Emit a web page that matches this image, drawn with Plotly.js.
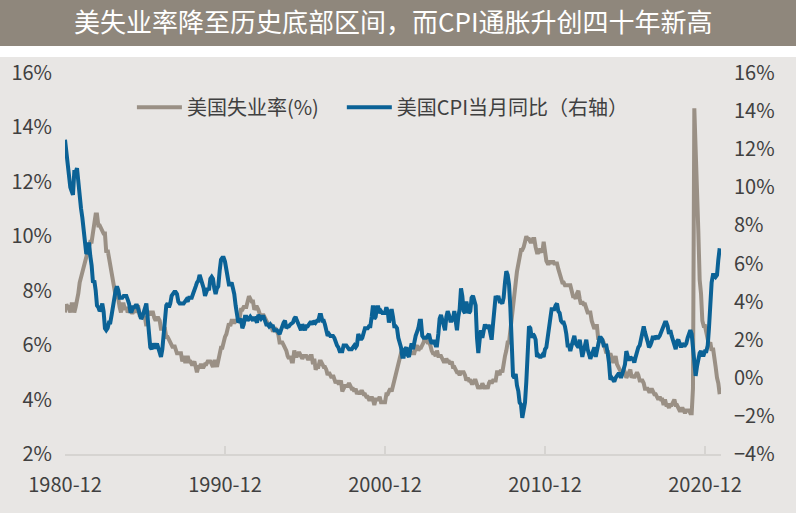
<!DOCTYPE html>
<html>
<head>
<meta charset="utf-8">
<script src="https://cdn.plot.ly/plotly-3.0.1.min.js"></script>
<style>
  html, body { margin: 0; padding: 0; background: #ffffff; }
  #plot { width: 796px; height: 513px; }
</style>
</head>
<body>
<div id="plot"></div>
<script>
// 月度数据：1980-12 至 2021-11
var startYear = 1980, startMonth = 12;

// 美国失业率(%)
var unemployment = [
  7.2,
  7.5, 7.4, 7.4, 7.2, 7.5, 7.5, 7.2, 7.4, 7.6, 7.9, 8.3, 8.5,
  8.6, 8.9, 9.0, 9.3, 9.4, 9.6, 9.8, 9.8, 10.1, 10.4, 10.8, 10.8,
  10.4, 10.4, 10.3, 10.2, 10.1, 10.1, 9.4, 9.5, 9.2, 8.8, 8.5, 8.3,
  8.0, 7.8, 7.8, 7.7, 7.4, 7.2, 7.5, 7.5, 7.3, 7.4, 7.2, 7.3,
  7.3, 7.2, 7.2, 7.3, 7.2, 7.4, 7.4, 7.1, 7.1, 7.1, 7.0, 7.0,
  6.7, 7.2, 7.2, 7.1, 7.2, 7.2, 7.0, 6.9, 7.0, 7.0, 6.9, 6.6,
  6.6, 6.6, 6.6, 6.3, 6.3, 6.2, 6.1, 6.0, 5.9, 6.0, 5.8, 5.7,
  5.7, 5.7, 5.7, 5.4, 5.6, 5.4, 5.4, 5.6, 5.4, 5.4, 5.3, 5.3,
  5.4, 5.2, 5.0, 5.2, 5.2, 5.3, 5.2, 5.2, 5.3, 5.3, 5.4, 5.4,
  5.4, 5.3, 5.2, 5.4, 5.4, 5.2, 5.5, 5.7, 5.9, 5.9, 6.2, 6.3,
  6.4, 6.6, 6.8, 6.7, 6.9, 6.9, 6.8, 6.9, 6.9, 7.0, 7.0, 7.3,
  7.3, 7.4, 7.4, 7.4, 7.6, 7.8, 7.7, 7.6, 7.6, 7.3, 7.4, 7.4,
  7.3, 7.1, 7.0, 7.1, 7.1, 7.0, 6.9, 6.8, 6.7, 6.8, 6.6, 6.5,
  6.6, 6.6, 6.5, 6.4, 6.1, 6.1, 6.1, 6.0, 5.9, 5.8, 5.6, 5.5,
  5.6, 5.4, 5.4, 5.8, 5.6, 5.6, 5.7, 5.7, 5.6, 5.5, 5.6, 5.6,
  5.6, 5.5, 5.5, 5.6, 5.6, 5.3, 5.5, 5.1, 5.2, 5.2, 5.4, 5.4,
  5.3, 5.2, 5.2, 5.1, 4.9, 5.0, 4.9, 4.8, 4.9, 4.7, 4.6, 4.7,
  4.6, 4.6, 4.7, 4.3, 4.4, 4.5, 4.5, 4.5, 4.6, 4.5, 4.4, 4.4,
  4.3, 4.4, 4.2, 4.3, 4.2, 4.3, 4.3, 4.2, 4.2, 4.1, 4.1, 4.0,
  4.0, 4.1, 4.0, 3.8, 4.0, 4.0, 4.0, 4.1, 3.9, 3.9, 3.9, 3.9,
  4.2, 4.2, 4.3, 4.4, 4.3, 4.5, 4.6, 4.9, 5.0, 5.3, 5.5, 5.7,
  5.7, 5.7, 5.7, 5.9, 5.8, 5.8, 5.8, 5.7, 5.7, 5.7, 5.9, 6.0,
  5.8, 5.9, 5.9, 6.0, 6.1, 6.3, 6.2, 6.1, 6.1, 6.0, 5.8, 5.7,
  5.7, 5.6, 5.8, 5.6, 5.6, 5.6, 5.5, 5.4, 5.4, 5.5, 5.4, 5.4,
  5.3, 5.4, 5.2, 5.2, 5.1, 5.0, 5.0, 4.9, 5.0, 5.0, 5.0, 4.9,
  4.7, 4.8, 4.7, 4.7, 4.6, 4.6, 4.7, 4.7, 4.5, 4.4, 4.5, 4.4,
  4.6, 4.5, 4.4, 4.5, 4.4, 4.6, 4.7, 4.6, 4.7, 4.7, 4.7, 5.0,
  5.0, 4.9, 5.1, 5.0, 5.4, 5.6, 5.8, 6.1, 6.1, 6.5, 6.8, 7.3,
  7.8, 8.3, 8.7, 9.0, 9.4, 9.5, 9.5, 9.6, 9.8, 10.0, 9.9, 9.9,
  9.8, 9.8, 9.9, 9.9, 9.6, 9.4, 9.4, 9.5, 9.5, 9.4, 9.8, 9.3,
  9.1, 9.0, 9.0, 9.1, 9.0, 9.1, 9.0, 9.0, 9.0, 8.8, 8.6, 8.5,
  8.3, 8.3, 8.2, 8.2, 8.2, 8.2, 8.2, 8.0, 7.8, 7.8, 7.7, 7.9,
  8.0, 7.7, 7.5, 7.6, 7.5, 7.5, 7.3, 7.2, 7.2, 7.2, 6.9, 6.7,
  6.6, 6.7, 6.7, 6.2, 6.3, 6.1, 6.2, 6.1, 5.9, 5.7, 5.8, 5.6,
  5.7, 5.5, 5.4, 5.4, 5.6, 5.3, 5.2, 5.1, 5.0, 5.0, 5.1, 5.0,
  4.8, 4.9, 5.0, 5.1, 4.8, 4.9, 4.8, 4.9, 5.0, 4.9, 4.7, 4.7,
  4.7, 4.6, 4.4, 4.4, 4.4, 4.3, 4.3, 4.4, 4.3, 4.2, 4.2, 4.1,
  4.0, 4.1, 4.0, 4.0, 3.8, 4.0, 3.8, 3.8, 3.7, 3.8, 3.8, 3.9,
  4.0, 3.8, 3.8, 3.7, 3.6, 3.6, 3.7, 3.6, 3.5, 3.6, 3.6, 3.6,
  3.5, 3.5, 4.4, 14.7, 13.2, 11.0, 10.2, 8.4, 7.9, 6.9, 6.7, 6.7,
  6.4, 6.2, 6.0, 6.1, 5.8, 5.9, 5.4, 5.2, 4.8, 4.6, 4.2
];

// 美国CPI当月同比(%)，右轴
var cpiYoy = [
  12.5,
  11.8, 11.4, 10.5, 10.0, 9.8, 9.6, 10.8, 10.8, 11.0, 10.1, 9.6, 8.9,
  8.4, 7.6, 6.8, 6.5, 6.7, 7.1, 6.4, 5.9, 5.0, 5.1, 4.6, 3.8,
  3.7, 3.5, 3.6, 3.9, 3.5, 2.6, 2.5, 2.6, 2.9, 2.9, 3.3, 3.8,
  4.2, 4.6, 4.8, 4.6, 4.2, 4.2, 4.2, 4.3, 4.3, 4.3, 4.1, 3.9,
  3.5, 3.5, 3.7, 3.7, 3.8, 3.8, 3.6, 3.3, 3.1, 3.2, 3.5, 3.8,
  3.9, 3.1, 2.2, 1.6, 1.5, 1.8, 1.6, 1.6, 1.8, 1.5, 1.3, 1.1,
  1.5, 2.1, 3.0, 3.8, 3.9, 3.7, 3.9, 4.3, 4.4, 4.5, 4.5, 4.4,
  4.0, 3.9, 3.9, 3.9, 3.9, 4.0, 4.1, 4.0, 4.2, 4.2, 4.2, 4.4,
  4.7, 4.8, 5.0, 5.1, 5.4, 5.2, 5.0, 4.7, 4.3, 4.5, 4.7, 4.6,
  5.2, 5.3, 5.2, 4.7, 4.4, 4.7, 4.8, 5.6, 6.2, 6.3, 6.3, 6.1,
  5.7, 5.3, 4.9, 4.9, 5.0, 4.7, 4.4, 3.8, 3.4, 2.9, 3.0, 3.1,
  2.6, 2.8, 3.2, 3.2, 3.0, 3.1, 3.2, 3.1, 3.0, 3.2, 3.0, 2.9,
  3.3, 3.2, 3.1, 3.2, 3.2, 3.0, 2.8, 2.8, 2.7, 2.8, 2.7, 2.7,
  2.5, 2.5, 2.5, 2.4, 2.3, 2.5, 2.8, 2.9, 3.0, 2.6, 2.7, 2.7,
  2.8, 2.9, 2.9, 3.1, 3.2, 3.0, 2.8, 2.6, 2.5, 2.8, 2.6, 2.5,
  2.7, 2.7, 2.8, 2.9, 2.9, 2.8, 3.0, 2.9, 3.0, 3.0, 3.3, 3.3,
  3.0, 3.0, 2.8, 2.5, 2.2, 2.3, 2.2, 2.2, 2.2, 2.1, 1.8, 1.7,
  1.6, 1.4, 1.4, 1.4, 1.7, 1.7, 1.7, 1.6, 1.5, 1.5, 1.5, 1.6,
  1.7, 1.6, 1.7, 2.3, 2.1, 2.0, 2.1, 2.3, 2.6, 2.6, 2.6, 2.7,
  2.7, 3.2, 3.8, 3.1, 3.2, 3.7, 3.7, 3.4, 3.5, 3.4, 3.4, 3.4,
  3.7, 3.5, 2.9, 3.3, 3.6, 3.2, 2.7, 2.7, 2.6, 2.1, 1.9, 1.6,
  1.1, 1.1, 1.5, 1.6, 1.2, 1.1, 1.5, 1.8, 1.5, 2.0, 2.2, 2.4,
  2.6, 3.0, 3.0, 2.2, 2.1, 2.1, 2.1, 2.2, 2.3, 2.0, 1.8, 1.9,
  1.9, 1.7, 1.7, 2.3, 3.1, 3.3, 3.0, 2.7, 2.5, 3.2, 3.5, 3.3,
  3.0, 3.0, 3.1, 3.5, 2.8, 2.5, 3.2, 3.6, 4.7, 4.3, 3.5, 3.4,
  4.0, 3.6, 3.4, 3.5, 4.2, 4.3, 4.1, 3.8, 2.1, 1.3, 2.0, 2.5,
  2.1, 2.4, 2.8, 2.6, 2.7, 2.7, 2.4, 2.0, 2.8, 3.5, 4.3, 4.1,
  4.3, 4.0, 4.0, 3.9, 4.2, 5.0, 5.6, 5.4, 4.9, 3.7, 1.1, 0.1,
  0.0, 0.2, -0.4, -0.7, -1.3, -1.4, -2.1, -1.5, -1.3, -0.2, 1.8, 2.7,
  2.6, 2.1, 2.3, 2.2, 2.0, 1.1, 1.2, 1.1, 1.1, 1.2, 1.1, 1.5,
  1.6, 2.1, 2.7, 3.2, 3.6, 3.6, 3.6, 3.8, 3.9, 3.5, 3.4, 3.0,
  2.9, 2.9, 2.7, 2.3, 1.7, 1.7, 1.4, 1.7, 2.0, 2.2, 1.8, 1.7,
  1.6, 2.0, 1.5, 1.1, 1.4, 1.8, 2.0, 1.5, 1.2, 1.0, 1.2, 1.5,
  1.6, 1.1, 1.5, 2.0, 2.1, 2.1, 2.0, 1.7, 1.7, 1.7, 1.3, 0.8,
  -0.1, 0.0, -0.1, -0.2, 0.0, 0.1, 0.2, 0.2, 0.0, 0.2, 0.5, 0.7,
  1.4, 1.0, 0.9, 1.1, 1.0, 1.0, 0.8, 1.1, 1.5, 1.6, 1.7, 2.1,
  2.5, 2.7, 2.4, 2.2, 1.9, 1.6, 1.7, 1.9, 2.2, 2.0, 2.2, 2.1,
  2.1, 2.2, 2.4, 2.5, 2.8, 2.9, 2.9, 2.7, 2.3, 2.5, 2.2, 1.9,
  1.6, 1.5, 1.9, 2.0, 1.8, 1.6, 1.8, 1.7, 1.7, 1.8, 2.1, 2.3,
  2.5, 2.3, 1.5, 0.3, 0.1, 0.6, 1.0, 1.3, 1.4, 1.2, 1.2, 1.4,
  1.4, 1.7, 2.6, 4.2, 5.0, 5.4, 5.4, 5.3, 5.4, 6.2, 6.8
];

var tickDates = ['1980-12-01', '1990-12-01', '2000-12-01', '2010-12-01', '2020-12-01'];
var tickLabels = ['1980-12', '1990-12', '2000-12', '2010-12', '2020-12'];

var titleText = '美失业率降至历史底部区间，而CPI通胀升创四十年新高';
var nameUnemp = '美国失业率(%)';
var nameCpi = '美国CPI当月同比（右轴）';

function monthDates(n) {
    var out = [];
    var y = startYear, m = startMonth;
    for (var i = 0; i < n; i++) {
        out.push(y + '-' + (m < 10 ? '0' + m : m) + '-01');
        m++;
        if (m > 12) { m = 1; y++; }
    }
    return out;
}

var fontFam = '"Noto Sans CJK SC", "Noto Sans", sans-serif';
var textColor = '#404040';
var axisGrey = '#d6d4d1';

var traceUnemp = {
    name: nameUnemp, x: monthDates(unemployment.length), y: unemployment,
    type: 'scatter', mode: 'lines', legend: 'legend',
    line: { color: '#9a9085', width: 4 }, yaxis: 'y'
};
var traceCpi = {
    name: nameCpi, x: monthDates(cpiYoy.length), y: cpiYoy,
    type: 'scatter', mode: 'lines', legend: 'legend2',
    line: { color: '#0b6296', width: 4 }, yaxis: 'y2'
};

// 两个图例分别定位，间距与原图一致
function legendAt(x) {
    return {
        orientation: 'h',
        x: x, xanchor: 'left',
        y: 0.910, yanchor: 'middle',
        bgcolor: 'rgba(0,0,0,0)',
        font: { family: fontFam, size: 20, color: textColor },
        itemwidth: 45
    };
}

var layout = {
    width: 796,
    height: 513,
    margin: { l: 65, r: 75, t: 73, b: 59 },
    paper_bgcolor: '#e8e6e4',
    plot_bgcolor: 'rgba(0,0,0,0)',
    font: { family: fontFam, color: textColor, size: 20 },
    title: {
        text: titleText,
        font: { family: fontFam, size: 26, color: '#ffffff' },
        xref: 'container', x: 0.494, xanchor: 'center',
        yref: 'container', y: 0.956, yanchor: 'middle'
    },
    shapes: [
        // 标题条与白色间隔
        { type: 'rect', xref: 'paper', yref: 'paper', x0: -0.2, x1: 1.2, y0: 1.0709, y1: 1.25,
          fillcolor: '#8f877c', line: { width: 0 }, layer: 'below' },
        { type: 'rect', xref: 'paper', yref: 'paper', x0: -0.2, x1: 1.2, y0: 1.042, y1: 1.0709,
          fillcolor: '#ffffff', line: { width: 0 }, layer: 'below' }
    ],
    showlegend: true,
    legend: legendAt(0.102),
    legend2: legendAt(0.422),
    xaxis: {
        type: 'date',
        range: ['1980-12-01', '2021-12-01'],
        tickvals: tickDates,
        ticktext: tickLabels,
        showgrid: false,
        zeroline: false,
        showline: true,
        linecolor: axisGrey,
        linewidth: 2,
        ticks: 'inside',
        ticklen: 8,
        tickwidth: 2,
        tickcolor: axisGrey,
        ticklabelstandoff: 12,
        tickfont: { family: fontFam, size: 20, color: textColor }
    },
    yaxis: {
        range: [2, 16],
        dtick: 2,
        tick0: 2,
        ticksuffix: '%',
        showgrid: false,
        zeroline: false,
        showline: false,
        ticklabelstandoff: 12,
        tickfont: { family: fontFam, size: 20, color: textColor }
    },
    yaxis2: {
        range: [-4, 16],
        dtick: 2,
        tick0: -4,
        ticksuffix: '%',
        overlaying: 'y',
        side: 'right',
        showgrid: false,
        zeroline: false,
        showline: false,
        ticklabelstandoff: 12,
        tickfont: { family: fontFam, size: 20, color: textColor }
    }
};

Plotly.newPlot('plot', [traceUnemp, traceCpi], layout, { displayModeBar: false, staticPlot: true });
</script>
</body>
</html>
